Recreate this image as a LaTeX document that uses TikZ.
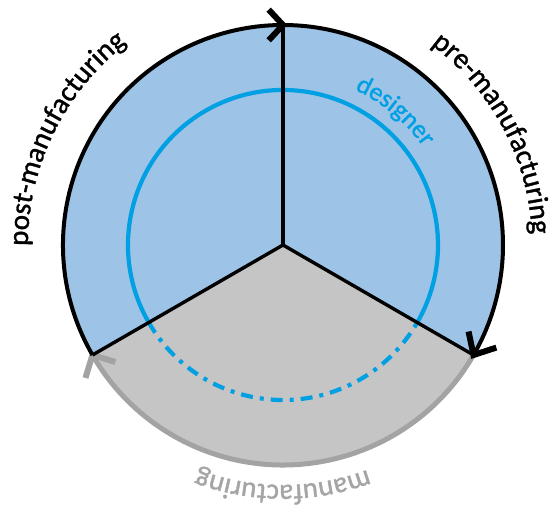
\documentclass[tikz,border=0pt]{standalone}
\usepackage{fontspec}
\newfontfamily\calfont[FakeBold=1.2]{Carlito}
\usetikzlibrary{decorations.text}
\definecolor{secblue}{RGB}{157,195,230}
\definecolor{secgray}{RGB}{197,197,197}
\definecolor{edgegray}{RGB}{163,163,163}
\definecolor{cyanline}{RGB}{0,160,227}
\definecolor{labgray}{RGB}{165,165,165}
\begin{document}
\begin{tikzpicture}[x=1pt,y=1pt,
  outerline/.style={line width=4pt},
  chev/.style={line width=6pt, line join=miter, line cap=butt},
  spoke/.style={line width=3.4pt},
  ring/.style={cyanline, line width=4.2pt},
  arclabel/.style={decorate, decoration={text along path, text align=center, text={|\calfont\fontsize{29}{36}\selectfont|#1}}},
]
\useasboundingbox (0,0) rectangle (555,523);
\begin{scope}[shift={(283,278)}]
\coordinate (O) at (0,0);
\coordinate (T) at (90:220);
\coordinate (L) at (210:220);
\coordinate (Rt) at (-30:220);
\coordinate (iL) at (210:155);
\coordinate (iR) at (-30:155);
% sectors
\fill[secblue] (O) -- (L) arc[start angle=210,end angle=90,radius=220] -- cycle;
\fill[secblue] (O) -- (T) arc[start angle=90,end angle=-30,radius=220] -- cycle;
\fill[secgray] (O) -- (Rt) arc[start angle=-30,end angle=-150,radius=220] -- cycle;
% gray outline with arrow
\draw[edgegray, line width=5pt] (Rt) arc[start angle=-30,end angle=-150,radius=220];
\draw[edgegray, chev] ([shift={(253:24)}]L) -- (L) -- ([shift={(343:24)}]L);
% inner designer ring
\draw[ring] (iL) arc[start angle=210,end angle=-30,radius=155];
\draw[ring, dash pattern=on 12pt off 7pt on 4pt off 7pt] (iL) arc[start angle=210,end angle=330,radius=155];
% spokes
\draw[spoke] (O) -- (T);
\draw[spoke] (O) -- (L);
\draw[spoke] (O) -- (Rt);
% outer black arcs
\draw[outerline] (L) arc[start angle=210,end angle=90,radius=220];
\draw[outerline] (T) arc[start angle=90,end angle=-30,radius=220];
\draw[chev] ([shift={(133:21)}]T) -- (T) -- ([shift={(227:21)}]T);
\draw[chev] ([shift={(102:24)}]Rt) -- (Rt) -- ([shift={(18:24)}]Rt);
% labels
\path[arclabel={post-manufacturing}] (196:255) arc[start angle=196,end angle=112,radius=255];
\path[arclabel={pre-manufacturing}] (70:249) arc[start angle=70,end angle=-14,radius=249];
\path[decorate, decoration={text along path, text align=center, text color=labgray, text={|\calfont\fontsize{29}{36}\selectfont|manufacturing}}] (-50:240) arc[start angle=-50,end angle=-130,radius=240];
\path[decorate, decoration={text along path, text align=center, text color=cyanline, text={|\calfont\fontsize{26}{30}\selectfont|designer}}] (80:171) arc[start angle=80,end angle=20,radius=171];
\end{scope}
\end{tikzpicture}
\end{document}
